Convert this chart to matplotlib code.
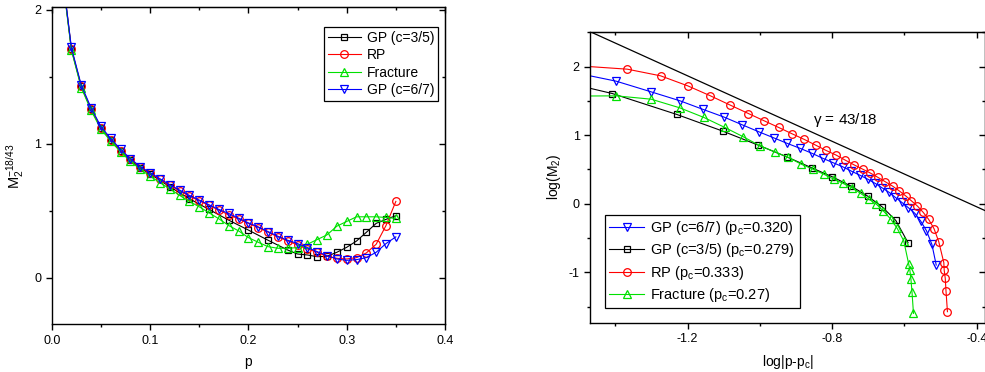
import matplotlib
matplotlib.use("Agg")
import matplotlib.pyplot as plt
from matplotlib.ticker import MultipleLocator

plt.rcParams['font.family'] = ['Liberation Sans', 'DejaVu Sans']
plt.rcParams['mathtext.fontset'] = 'custom'
plt.rcParams['mathtext.rm'] = 'Liberation Sans'
plt.rcParams['mathtext.it'] = 'Liberation Sans'
plt.rcParams['axes.unicode_minus'] = False

# ---- left panel: M2^(-18/43) vs p ----
p = [0.01, 0.02, 0.03, 0.04, 0.05, 0.06, 0.07, 0.08, 0.09, 0.10,
     0.11, 0.12, 0.13, 0.14, 0.15, 0.16, 0.17, 0.18, 0.19, 0.20,
     0.21, 0.22, 0.23, 0.24, 0.25, 0.26, 0.27, 0.28, 0.29, 0.30,
     0.31, 0.32, 0.33, 0.34, 0.35]
gp67_m = [2.32, 1.72, 1.44, 1.27, 1.13, 1.04, 0.96, 0.89, 0.83, 0.785,
          0.74, 0.695, 0.655, 0.615, 0.58, 0.545, 0.51, 0.48, 0.445, 0.41,
          0.38, 0.345, 0.31, 0.28, 0.255, 0.225, 0.195, 0.165, 0.14, 0.13,
          0.135, 0.15, 0.19, 0.255, 0.305]
rp_m = [2.32, 1.71, 1.43, 1.26, 1.12, 1.03, 0.95, 0.885, 0.825, 0.78,
        0.735, 0.69, 0.65, 0.61, 0.575, 0.54, 0.505, 0.47, 0.44, 0.405,
        0.375, 0.34, 0.305, 0.275, 0.245, 0.215, 0.19, 0.16, 0.145, 0.14,
        0.15, 0.185, 0.25, 0.39, 0.57]
frac_m = [2.30, 1.70, 1.42, 1.25, 1.11, 1.02, 0.94, 0.87, 0.81, 0.76,
          0.71, 0.665, 0.615, 0.57, 0.53, 0.485, 0.44, 0.39, 0.35, 0.30,
          0.265, 0.232, 0.22, 0.22, 0.225, 0.25, 0.285, 0.32, 0.385, 0.42,
          0.455, 0.455, 0.455, 0.45, 0.443]
p_gp35 = [0.01, 0.02, 0.03, 0.04, 0.05, 0.06, 0.07, 0.08, 0.09, 0.10,
          0.12, 0.14, 0.16, 0.18, 0.20, 0.22, 0.24, 0.25, 0.26, 0.27,
          0.28, 0.29, 0.30, 0.31, 0.32, 0.33, 0.34, 0.35]
gp35_m = [2.31, 1.71, 1.43, 1.26, 1.12, 1.03, 0.95, 0.88, 0.82, 0.775,
          0.68, 0.59, 0.51, 0.43, 0.356, 0.28, 0.207, 0.177, 0.17, 0.157,
          0.16, 0.19, 0.227, 0.274, 0.339, 0.406, 0.436, 0.463]

# ---- right panel: log(M2) vs log|p-pc| ----
gp67_x = [-1.55, -1.398, -1.301, -1.221, -1.157, -1.099, -1.049, -1.003, -0.960,
          -0.924, -0.888, -0.855, -0.825, -0.797, -0.771, -0.747, -0.724,
          -0.702, -0.681, -0.662, -0.642, -0.625, -0.607, -0.589, -0.571,
          -0.555, -0.539, -0.524, -0.512]
gp67_y = [1.953, 1.789, 1.633, 1.502, 1.376, 1.264, 1.152, 1.050, 0.958,
          0.880, 0.807, 0.734, 0.661, 0.598, 0.540, 0.476, 0.418,
          0.360, 0.297, 0.233, 0.165, 0.092, 0.019, -0.058, -0.141,
          -0.253, -0.394, -0.593, -0.895]
gp35_x = [-1.55, -1.409, -1.230, -1.103, -1.005, -0.926, -0.857, -0.800,
          -0.748, -0.702, -0.662, -0.624, -0.590]
gp35_y = [1.784, 1.609, 1.303, 1.060, 0.856, 0.685, 0.525, 0.394,
          0.258, 0.112, -0.044, -0.243, -0.569]
rp_x = [-1.55, -1.367, -1.275, -1.200, -1.137, -1.082, -1.032, -0.988, -0.948,
        -0.911, -0.877, -0.846, -0.817, -0.789, -0.764, -0.740, -0.716,
        -0.694, -0.673, -0.653, -0.633, -0.615, -0.597, -0.581, -0.564,
        -0.548, -0.533, -0.518, -0.505, -0.491, -0.490, -0.487, -0.485, -0.481]
rp_y = [2.03, 1.964, 1.867, 1.721, 1.575, 1.439, 1.317, 1.210, 1.113,
        1.021, 0.938, 0.856, 0.778, 0.710, 0.637, 0.569, 0.506,
        0.447, 0.384, 0.321, 0.258, 0.190, 0.117, 0.044, -0.034,
        -0.126, -0.228, -0.365, -0.554, -0.860, -0.967, -1.089, -1.269, -1.575]
frac_x = [-1.55, -1.398, -1.301, -1.222, -1.155, -1.097, -1.046, -1.000, -0.959,
          -0.921, -0.886, -0.854, -0.824, -0.796, -0.770, -0.745, -0.721,
          -0.699, -0.678, -0.658, -0.638, -0.620, -0.602, -0.588, -0.585,
          -0.582, -0.579, -0.575]
frac_y = [1.57, 1.575, 1.526, 1.400, 1.259, 1.113, 0.977, 0.846, 0.758,
          0.676, 0.578, 0.505, 0.433, 0.360, 0.297, 0.233, 0.150,
          0.068, -0.005, -0.107, -0.224, -0.360, -0.540, -0.885, -0.967,
          -1.103, -1.293, -1.600]
gamma_x = [-1.50, -0.35]
gamma_y = [2.583, -0.164]

W, H = 985, 372
fig = plt.figure(figsize=(W / 100, H / 100), dpi=100)

ax1 = fig.add_axes([51.7 / W, 1 - 324.3 / H, 393.3 / W, 317 / H])
ax2 = fig.add_axes([590 / W, 1 - 322.7 / H, 395 / W, 291 / H])

mk = dict(markerfacecolor='none', markeredgewidth=0.9, linewidth=0.8)

# left
ax1.plot(p_gp35, gp35_m, '-s', color='black', ms=5, label='GP (c=3/5)', **mk)
ax1.plot(p, rp_m, '-o', color='#ff0000', ms=5.5, label='RP', **mk)
ax1.plot(p, frac_m, '-^', color='#00e000', ms=6, label='Fracture', **mk)
ax1.plot(p, gp67_m, '-v', color='#0000ff', ms=6, label='GP (c=6/7)', **mk)
ax1.set_xlim(0, 0.4)
ax1.set_ylim(-0.348, 2.02)
ax1.xaxis.set_major_locator(MultipleLocator(0.1))
ax1.xaxis.set_minor_locator(MultipleLocator(0.05))
ax1.yaxis.set_major_locator(MultipleLocator(1))
ax1.yaxis.set_minor_locator(MultipleLocator(0.5))
ax1.set_xlabel('p', fontsize=10, labelpad=6)
ax1.set_ylabel(r'$\mathregular{M_2^{-18/43}}$', fontsize=10.5, labelpad=6)
leg1 = ax1.legend(loc='upper right', bbox_to_anchor=(0.983, 0.939), fontsize=10,
                  fancybox=False, edgecolor='black', framealpha=1,
                  handlelength=2.4, handletextpad=0.4, borderpad=0.3,
                  labelspacing=0.25, borderaxespad=0)
leg1.get_frame().set_linewidth(0.9)

# right
ax2.plot(gamma_x, gamma_y, color='black', linewidth=0.9)
h1, = ax2.plot(gp67_x, gp67_y, '-v', color='#0000ff', ms=6, **mk)
h2, = ax2.plot(gp35_x, gp35_y, '-s', color='black', ms=5, **mk)
h3, = ax2.plot(rp_x, rp_y, '-o', color='#ff0000', ms=5.5, **mk)
h4, = ax2.plot(frac_x, frac_y, '-^', color='#00e000', ms=6, **mk)
ax2.set_xlim(-1.4704, -0.377)
ax2.set_ylim(-1.736, 2.511)
ax2.xaxis.set_major_locator(MultipleLocator(0.4))
ax2.xaxis.set_minor_locator(MultipleLocator(0.2))
ax2.yaxis.set_major_locator(MultipleLocator(1))
ax2.yaxis.set_minor_locator(MultipleLocator(0.5))
ax2.set_xlabel(r'log|p-$\mathregular{p_c}$|', fontsize=10, labelpad=6)
ax2.set_ylabel(r'log($\mathregular{M_2}$)', fontsize=10, labelpad=4)
ax2.text(-0.853, 1.22, r'$\gamma$ = 43/18', fontsize=11, ha='left', va='center')
leg2 = ax2.legend([h1, h2, h3, h4],
                  [r'GP (c=6/7) ($\mathregular{p_c}$=0.320)',
                   r'GP (c=3/5) ($\mathregular{p_c}$=0.279)',
                   r'RP ($\mathregular{p_c}$=0.333)',
                   r'Fracture ($\mathregular{p_c}$=0.27)'],
                  loc='lower left', bbox_to_anchor=(0.038, 0.049), fontsize=10.5,
                  fancybox=False, edgecolor='black', framealpha=1,
                  handlelength=2.4, handletextpad=0.4, borderpad=0.3,
                  labelspacing=0.3, borderaxespad=0)
leg2.get_frame().set_linewidth(0.9)

for ax in (ax1, ax2):
    for s in ax.spines.values():
        s.set_linewidth(1.0)
    ax.tick_params(which='both', direction='out', labelsize=9, width=1.0)
    ax.tick_params(which='major', length=4)
    ax.tick_params(which='minor', length=2.5)
    top = ax.secondary_xaxis('top')
    top.xaxis.set_major_locator(ax.xaxis.get_major_locator())
    top.xaxis.set_minor_locator(ax.xaxis.get_minor_locator())
    top.tick_params(which='both', direction='in', labeltop=False, width=1.0)
    top.tick_params(which='major', length=4)
    top.tick_params(which='minor', length=2.5)
    right = ax.secondary_yaxis('right')
    right.yaxis.set_major_locator(ax.yaxis.get_major_locator())
    right.yaxis.set_minor_locator(ax.yaxis.get_minor_locator())
    right.tick_params(which='both', direction='in', labelright=False, width=1.0)
    right.tick_params(which='major', length=4)
    right.tick_params(which='minor', length=2.5)

fig.savefig('out.png', dpi=100)
